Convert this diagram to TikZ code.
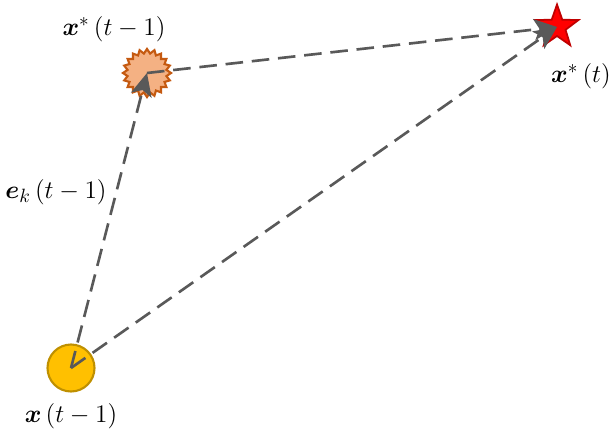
\documentclass[tikz,border=0pt]{standalone}
\usepackage{amsmath}
\usetikzlibrary{arrows.meta, shapes.geometric}
\definecolor{lineGray}{HTML}{595959}
\definecolor{dotFill}{HTML}{FFC000}
\definecolor{dotEdge}{HTML}{BF9000}
\definecolor{burstFill}{HTML}{F4B183}
\definecolor{burstEdge}{HTML}{C55A11}
\definecolor{starEdge}{HTML}{C00000}

\begin{document}
\begin{tikzpicture}[x=0.02cm, y=-0.02cm,
  every node/.style={font=\fontsize{15}{18}\selectfont},
  link/.style={draw=lineGray, line width=1.5pt, dash pattern=on 10pt off 5pt,
    -{Stealth[length=13pt, width=12pt, inset=3pt, fill=lineGray]}}]
        \useasboundingbox (0,0) rectangle (614,435);
        % points
        \node[circle, fill=dotFill, draw=dotEdge, line width=1.2pt, minimum size=0.94cm, inner sep=0pt] (cur) at (71,368) {};
        \node[star, star points=20, star point ratio=1.22, fill=burstFill, draw=burstEdge, line width=1.2pt, minimum size=0.96cm, inner sep=0pt] (best) at (147,73) {};
        \node[star, star points=5, star point ratio=2.5, fill=red, draw=starEdge, line width=1pt, minimum size=0.9cm, inner sep=0pt] (goal) at (557,27) {};
        % labels
        \node (curL) at (71,416) {$\boldsymbol{x}\,(t-1)$};
        \node (bestL) at (114,29) {$\boldsymbol{x}^{*}\,(t-1)$};
        \node (goalL) at (581,76) {$\boldsymbol{x}^{*}\,(t)$};
        \node (errL) at (56,192) {$\boldsymbol{e}_{k}\,(t-1)$};
        % moves
        \draw[link] (cur.center) -- (best.center);
        \draw[link] (best.center) -- (goal.center);
        \draw[link] (cur.center) -- (goal.center);
      \end{tikzpicture}
\end{document}
